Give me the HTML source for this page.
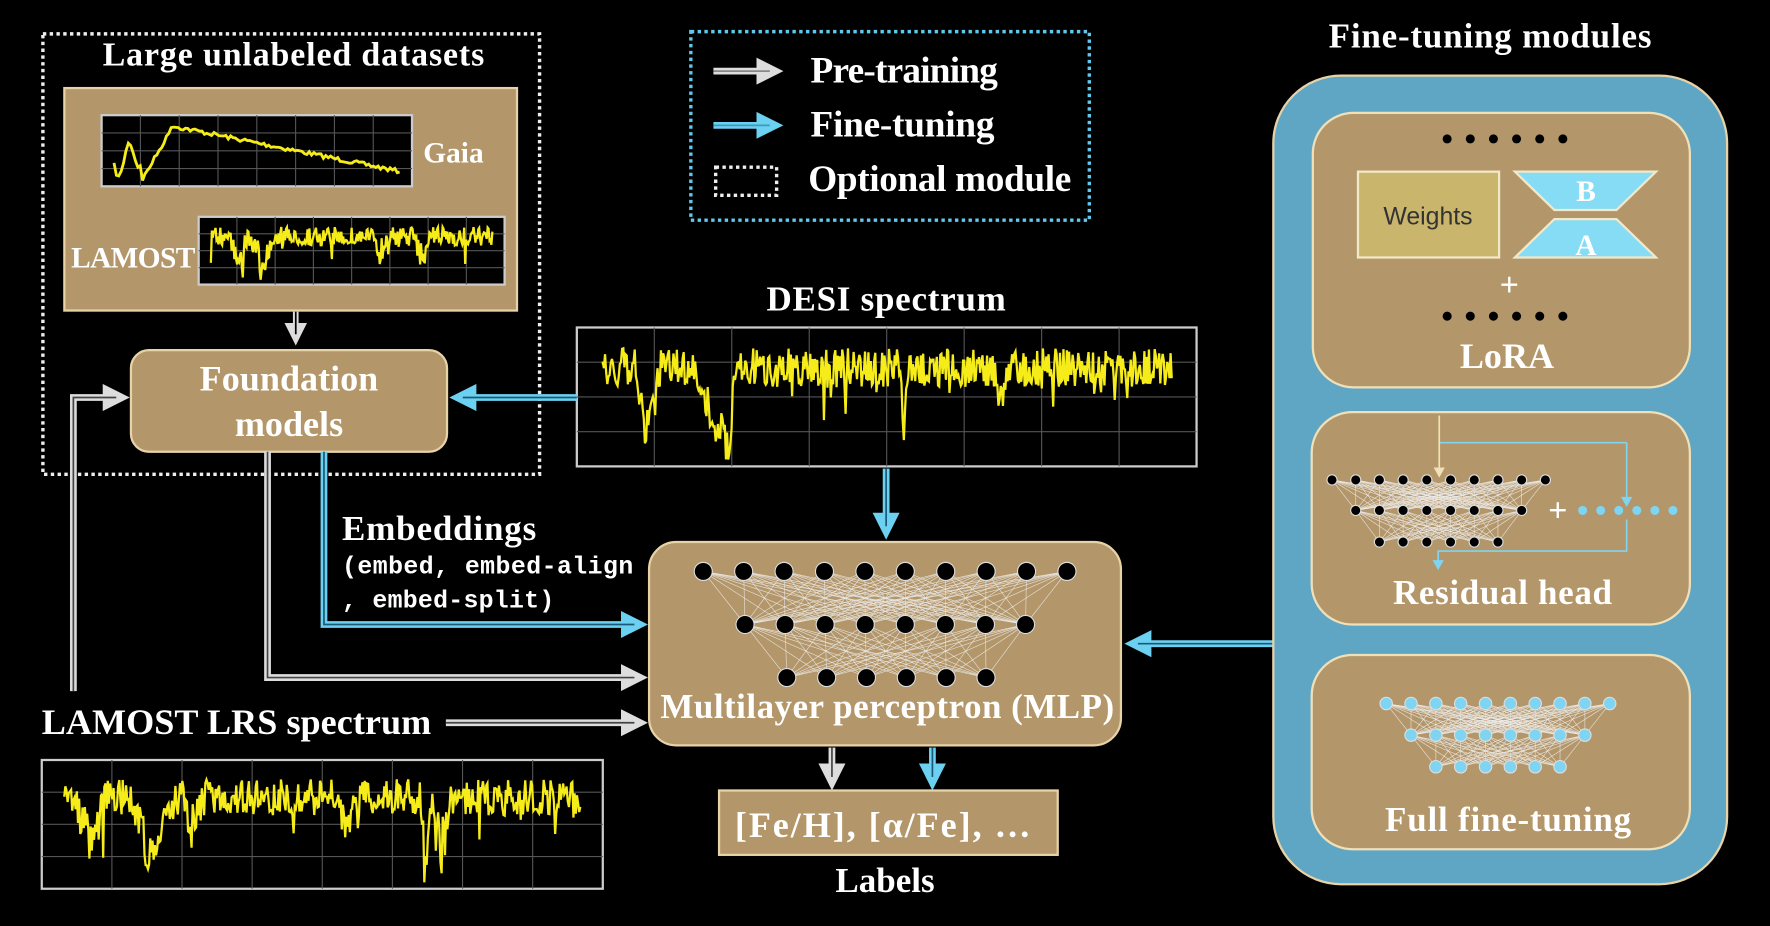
<!DOCTYPE html>
<html><head><meta charset="utf-8"><style>
html,body{margin:0;padding:0;background:#000;width:1770px;height:926px;overflow:hidden}
svg{display:block}
text{font-family:"Liberation Serif",serif;fill:#fff;font-weight:bold}
.m{font-family:"Liberation Mono",monospace;font-weight:bold}
</style></head><body>
<svg id="s" width="1770" height="926" viewBox="0 0 1568 820" preserveAspectRatio="none" xmlns="http://www.w3.org/2000/svg">
<defs>
<marker id="ag" markerWidth="4" markerHeight="4" refX="2" refY="2" orient="auto" markerUnits="strokeWidth"><path d="M0,0L4,2L0,4z" fill="#ddd"/></marker>
<marker id="ab" markerWidth="4" markerHeight="4" refX="2" refY="2" orient="auto" markerUnits="strokeWidth"><path d="M0,0L4,2L0,4z" fill="#6cd0f0"/></marker>
</defs>
<rect width="1568" height="820" fill="#000"/>
<rect x="38" y="30" width="440" height="390" fill="none" stroke="#eee" stroke-width="3" stroke-dasharray="3 3"/>
<text x="260" y="58" font-size="30" text-anchor="middle" textLength="338">Large unlabeled datasets</text>
<rect x="57" y="78" width="401" height="197" fill="#b39669" stroke="#e8d3a8" stroke-width="2"/>
<g id="plots"></g>
<text x="375" y="144" font-size="26">Gaia</text>
<text x="63" y="237" font-size="26" textLength="110">LAMOST</text>
<line x1="262" y1="276" x2="262" y2="296" stroke="#ddd" stroke-width="5" marker-end="url(#ag)"/>
<line x1="262" y1="276" x2="262" y2="296" stroke="#000" stroke-width="1.5"/>
<rect x="116" y="310" width="280" height="90" rx="16" fill="#b39669" stroke="#e8d3a8" stroke-width="2"/>
<text x="256" y="346" font-size="32" text-anchor="middle">Foundation</text>
<text x="256" y="386" font-size="32" text-anchor="middle">models</text>
<rect x="612" y="28" width="353" height="167" fill="none" stroke="#5fc8ec" stroke-width="3" stroke-dasharray="3 3"/>
<line x1="632" y1="63" x2="682" y2="63" stroke="#ddd" stroke-width="6" marker-end="url(#ag)"/>
<line x1="632" y1="63" x2="682" y2="63" stroke="#888" stroke-width="1.5"/>
<line x1="632" y1="111" x2="682" y2="111" stroke="#6cd0f0" stroke-width="6" marker-end="url(#ab)"/>
<line x1="632" y1="111" x2="682" y2="111" stroke="#3a9cc0" stroke-width="1.5"/>
<rect x="634" y="148" width="54" height="25" fill="none" stroke="#eee" stroke-width="3" stroke-dasharray="3 3"/>
<text x="718" y="73" font-size="33" textLength="166">Pre-training</text>
<text x="718" y="121" font-size="33" textLength="163">Fine-tuning</text>
<text x="716" y="169" font-size="33" textLength="233">Optional module</text>
<text x="785" y="275" font-size="31" text-anchor="middle" textLength="212">DESI spectrum</text>
<g fill="none">
<line x1="511" y1="352" x2="410" y2="352" stroke="#6cd0f0" stroke-width="6" marker-end="url(#ab)"/>
<line x1="511" y1="352" x2="410" y2="352" stroke="#1a5a78" stroke-width="1.5"/>
<line x1="785" y1="415" x2="785" y2="466" stroke="#6cd0f0" stroke-width="6" marker-end="url(#ab)"/>
<line x1="785" y1="415" x2="785" y2="466" stroke="#1a5a78" stroke-width="1.5"/>
<polyline points="287,400 287,553 562,553" stroke="#6cd0f0" stroke-width="6" marker-end="url(#ab)"/>
<polyline points="287,400 287,553 562,553" stroke="#1a5a78" stroke-width="1.5"/>
<polyline points="237,400 237,600 562,600" stroke="#ddd" stroke-width="6" marker-end="url(#ag)"/>
<polyline points="237,400 237,600 562,600" stroke="#444" stroke-width="1.5"/>
<polyline points="65,612 65,352 103,352" stroke="#ddd" stroke-width="6" marker-end="url(#ag)"/>
<polyline points="65,612 65,352 103,352" stroke="#444" stroke-width="1.5"/>
<line x1="395" y1="640" x2="562" y2="640" stroke="#ddd" stroke-width="6" marker-end="url(#ag)"/>
<line x1="395" y1="640" x2="562" y2="640" stroke="#444" stroke-width="1.5"/>
<line x1="1128" y1="570" x2="1008" y2="570" stroke="#6cd0f0" stroke-width="6" marker-end="url(#ab)"/>
<line x1="1128" y1="570" x2="1008" y2="570" stroke="#1a5a78" stroke-width="1.5"/>
<line x1="737" y1="662" x2="737" y2="688" stroke="#ddd" stroke-width="6" marker-end="url(#ag)"/>
<line x1="737" y1="662" x2="737" y2="688" stroke="#444" stroke-width="1.5"/>
<line x1="826" y1="662" x2="826" y2="688" stroke="#6cd0f0" stroke-width="6" marker-end="url(#ab)"/>
<line x1="826" y1="662" x2="826" y2="688" stroke="#1a5a78" stroke-width="1.5"/>
</g>
<text x="303" y="478" font-size="31" textLength="172">Embeddings</text>
<text x="303" y="508" font-size="22" class="m" textLength="258">(embed, embed-align</text>
<text x="303" y="538" font-size="22" class="m" textLength="188">, embed-split)</text>
<text x="37" y="650" font-size="32" textLength="345">LAMOST LRS spectrum</text>
<rect x="575" y="480" width="418" height="180" rx="24" fill="#b39669" stroke="#e8d3a8" stroke-width="2"/>
<g id="mlp"></g>
<text x="786" y="636" font-size="31" text-anchor="middle" textLength="402">Multilayer perceptron (MLP)</text>
<rect x="637" y="700" width="300" height="57" fill="#b39669" stroke="#e8d3a8" stroke-width="2"/>
<text x="782" y="741" font-size="32" text-anchor="middle" textLength="262">[Fe/H], [α/Fe], …</text>
<text x="784" y="790" font-size="31" text-anchor="middle">Labels</text>
<text x="1320" y="42" font-size="31" text-anchor="middle" textLength="286">Fine-tuning modules</text>
<rect x="1128" y="67" width="402" height="716" rx="60" fill="#5fa6c5" stroke="#e8d3a8" stroke-width="2"/>
<rect x="1163" y="100" width="334" height="243" rx="36" fill="#b39669" stroke="#f0e0b8" stroke-width="2"/>
<rect x="1162" y="365" width="335" height="188" rx="36" fill="#b39669" stroke="#f0e0b8" stroke-width="2"/>
<rect x="1162" y="580" width="335" height="172" rx="36" fill="#b39669" stroke="#f0e0b8" stroke-width="2"/>
<rect x="1203" y="152" width="125" height="76" fill="#c9b56b" stroke="#f3e8c8" stroke-width="2"/>
<text x="1265" y="199" font-size="22" text-anchor="middle" style="font-family:'Liberation Sans',sans-serif;fill:#333;font-weight:normal">Weights</text>
<path d="M1342,152L1467,152L1432,186L1377,186Z" fill="#86dcf4" stroke="#f3e8c8" stroke-width="2"/>
<path d="M1377,194L1432,194L1467,228L1342,228Z" fill="#86dcf4" stroke="#f3e8c8" stroke-width="2"/>
<text x="1405" y="178" font-size="26" text-anchor="middle">B</text>
<text x="1405" y="226" font-size="26" text-anchor="middle">A</text>
<text x="1337" y="262" font-size="30" text-anchor="middle">+</text>
<text x="1335" y="326" font-size="32" text-anchor="middle">LoRA</text>
<polyline points="1441,392 1441,442" fill="none" stroke="#7fd4f2" stroke-width="1.5"/>
<polyline points="1275,392 1441,392" fill="none" stroke="#7fd4f2" stroke-width="1.5"/>
<line x1="1275" y1="368" x2="1275" y2="418" stroke="#f0e0b8" stroke-width="1.5"/>
<path d="M1270,414L1280,414L1275,423Z" fill="#f0e0b8"/>
<path d="M1436,440L1446,440L1441,449Z" fill="#7fd4f2"/>
<polyline points="1441,460 1441,488 1274,488 1274,498" fill="none" stroke="#7fd4f2" stroke-width="1.5"/>
<path d="M1269,496L1279,496L1274,505Z" fill="#7fd4f2"/>
<text x="1380" y="462" font-size="30" text-anchor="middle">+</text>
<text x="1331" y="535" font-size="31" text-anchor="middle" textLength="194">Residual head</text>
<text x="1336" y="736" font-size="31" text-anchor="middle" textLength="218">Full fine-tuning</text>
<g id="nets"></g>
</svg>
<script>
var NS="http://www.w3.org/2000/svg";
function el(p,t,a){var e=document.createElementNS(NS,t);for(var k in a)e.setAttribute(k,a[k]);p.appendChild(e);return e;}
var seed=7;function r(){seed=(seed*16807)%2147483647;return seed/2147483647;}
var P=document.getElementById('plots');
function plot(x,y,w,h,fn){
 el(P,'rect',{x:x,y:y,width:w,height:h,fill:'#000',stroke:'#ccc','stroke-width':2});
 for(var i=1;i<8;i++)el(P,'line',{x1:x+w*i/8,y1:y,x2:x+w*i/8,y2:y+h,stroke:'#555','stroke-width':1});
 for(var j=1;j<4;j++)el(P,'line',{x1:x,y1:y+h*j/4,x2:x+w,y2:y+h*j/4,stroke:'#555','stroke-width':1});
 var pts=[];var n=fn.n;for(var i=0;i<=n;i++){var t=i/n;pts.push((x+fn.x0*w+t*w*(fn.x1-fn.x0)).toFixed(1)+','+(y+h*fn.f(t)).toFixed(1));}
 el(P,'polyline',{points:pts.join(' '),fill:'none',stroke:'#f5ec1a','stroke-width':fn.sw||2});
}
plot(90,102,275,63,{n:120,x0:.04,x1:.96,sw:2.5,f:function(t){var v;if(t<.1)v=.7+.2*Math.sin(t*90)-t*2;else if(t<.2)v=.9-(t-.1)*7;else v=.15+(t-.2)*.8;return Math.min(.92,Math.max(.05,v+(r()-.5)*.06));}});
function noisy(dips){return function(t){var v=.15+r()*.28;for(var i=0;i<dips.length;i++){var d=dips[i];var dd=Math.abs(t-d[0]);if(dd<d[2])v+=d[1]*(1-dd/d[2])*(0.6+r()*.6);}if(r()<.05)v+=r()*.3;return Math.min(.95,v);}}
plot(176,192,271,60,{n:300,x0:.04,x1:.96,f:noisy([[.1,.5,.03],[.18,.5,.04],[.6,.3,.03],[.75,.4,.03]])});
plot(511,290,549,123,{n:500,x0:.04,x1:.96,f:noisy([[.08,.5,.02],[.2,.5,.04],[.22,.6,.01],[.53,.7,.006],[.7,.3,.01]])});
plot(37,673,497,114,{n:450,x0:.04,x1:.96,f:noisy([[.05,.4,.03],[.17,.5,.04],[.25,.3,.02],[.55,.3,.02],[.7,.6,.01],[.73,.5,.02]])});
function net(g,rows,cy,r0,fill,lc){
 var centers=rows.map(function(row){var a=[];for(var i=0;i<row.n;i++)a.push([row.x0+i*row.d,row.y]);return a;});
 for(var k=0;k<centers.length-1;k++)centers[k].forEach(function(p){centers[k+1].forEach(function(q){el(g,'line',{x1:p[0],y1:p[1],x2:q[0],y2:q[1],stroke:lc,'stroke-width':.6,opacity:.8});});});
 centers.forEach(function(row){row.forEach(function(p){el(g,'circle',{cx:p[0],cy:p[1],r:r0,fill:fill,stroke:'#ddd','stroke-width':1});});});
}
var M=document.getElementById('mlp');
net(M,[{n:10,x0:623,d:35.8,y:506},{n:8,x0:660,d:35.5,y:553},{n:6,x0:697,d:35.3,y:600}],0,8,'#000','#eee');
var N=document.getElementById('nets');
net(N,[{n:10,x0:1180,d:21,y:425},{n:8,x0:1201,d:21,y:452},{n:6,x0:1222,d:21,y:480}],0,4.5,'#000','#eee');
net(N,[{n:10,x0:1228,d:22,y:623},{n:8,x0:1250,d:22,y:651},{n:6,x0:1272,d:22,y:679}],0,5.5,'#7fd4f2','#eee');
for(var i=0;i<6;i++){el(N,'circle',{cx:1282+i*20.5,cy:123,r:4,fill:'#000'});el(N,'circle',{cx:1282+i*20.5,cy:280,r:4,fill:'#000'});el(N,'circle',{cx:1402+i*16,cy:452,r:4,fill:'#7fd4f2'});}
</script>
</body></html>
